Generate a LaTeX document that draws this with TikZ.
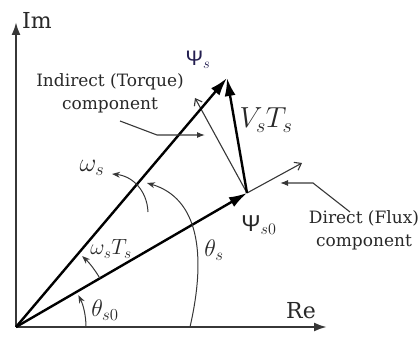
\RequirePackage{fix-cm}
\documentclass[tikz,border=0pt]{standalone}
\usepackage{fontspec}
\newfontfamily\notefont{DejaVu Serif}
\newfontfamily\psifont{Liberation Sans}
\usepackage{tikz}
\usetikzlibrary{arrows.meta, positioning}
\definecolor{axisgray}{RGB}{55,55,55}
\definecolor{textgray}{RGB}{40,40,40}
\definecolor{psinavy}{RGB}{35,30,80}

\begin{document}
\begin{tikzpicture}[x=1pt, y=1pt,
    axis/.style={draw=axisgray, line width=2.2pt, -{Latex[length=13pt,width=9pt]}},
    vec/.style={line width=2.4pt, -{Latex[length=18pt,width=11pt]}},
    comp/.style={draw=axisgray, line width=1.1pt, -{Straight Barb[length=6pt,width=9pt]}},
    pointer/.style={draw=axisgray, line width=1.1pt, -{Latex[length=8pt,width=6pt]}},
    anglearc/.style={draw=axisgray, line width=1pt, -{Stealth[length=8pt,width=6pt]}},
    note/.style={font=\notefont\fontsize{17}{23}\selectfont, text=textgray, align=center, inner sep=0pt},
    axislbl/.style={font=\notefont\fontsize{22}{26}\selectfont, text=textgray, inner sep=0pt},
    anglelbl/.style={font=\fontsize{22}{26}\selectfont, text=textgray, inner sep=0pt}]
  \useasboundingbox (0,0) rectangle (420,338);

  % points of the diagram
  \coordinate (O) at (16,11);
  \coordinate (ReEnd) at (327,11);
  \coordinate (ImEnd) at (16,316);
  \coordinate (P0) at (247,145);
  \coordinate (Ps) at (227,260);
  \coordinate (torqueDir) at (195,240);
  \coordinate (fluxDir) at (302,175);

  % axes
  \draw[axis] (O) -- (ReEnd);
  \draw[axis] (O) -- (ImEnd);
  \node[axislbl] (ImLbl) at (37,318) {Im};
  \node[axislbl] (ReLbl) at (301,27) {Re};

  % flux vectors
  \draw[comp] (P0) -- (torqueDir);
  \draw[comp] (P0) -- (fluxDir);
  \draw[vec] (O) -- (P0);
  \draw[vec] (O) -- (Ps);
  \draw[vec] (P0) -- (Ps);

  \node[font=\psifont\fontsize{21}{24}\selectfont, text=psinavy, inner sep=0pt]
    (PsLbl) at (198,278) {Ψ$_s$};
  \node[font=\psifont\fontsize{23}{26}\selectfont, text=textgray, inner sep=0pt]
    (PsZeroLbl) at (259,113) {Ψ$_{s0}$};
  \node[font=\fontsize{29}{32}\selectfont, text=textgray, inner sep=0pt]
    (VTLbl) at (266,218) {$V_sT_s$};

  % component notes
  \node[note] (torqueNote) at (110,245) {Indirect (Torque)\\component};
  \node[note] (fluxNote) at (364,108) {Direct (Flux)\\component};
  \coordinate (torqueA) at (120,217);
  \coordinate (torqueB) at (157,203);
  \coordinate (torqueC) at (205,203);
  \coordinate (fluxA) at (350,126);
  \coordinate (fluxB) at (313,155);
  \coordinate (fluxC) at (280,155);
  \draw[pointer] (torqueA) -- (torqueB) -- (torqueC);
  \draw[pointer] (fluxA) -- (fluxB) -- (fluxC);

  % angles
  \draw[anglearc] ([shift={(0:70)}]O) arc[start angle=0, end angle=27, radius=70];
  \draw[anglearc] ([shift={(30.1:97)}]O) arc[start angle=30.1, end angle=47, radius=97];
  \draw[anglearc] (190,11) .. controls (207,85) and (198,140) .. (147,155);
  \draw[anglearc] (148,126) .. controls (147,148) and (132,162) .. (112,164);

  \node[anglelbl, font=\fontsize{24}{28}\selectfont] (thetaZeroLbl) at (105,28) {$\theta_{s0}$};
  \node[anglelbl, font=\fontsize{24}{28}\selectfont] (thetaLbl) at (214,88) {$\theta_s$};
  \node[anglelbl] (omegaTLbl) at (111,89) {$\omega_sT_s$};
  \node[anglelbl, font=\fontsize{26}{30}\selectfont] (omegaLbl) at (92,170) {$\omega_s$};
\end{tikzpicture}
\end{document}
